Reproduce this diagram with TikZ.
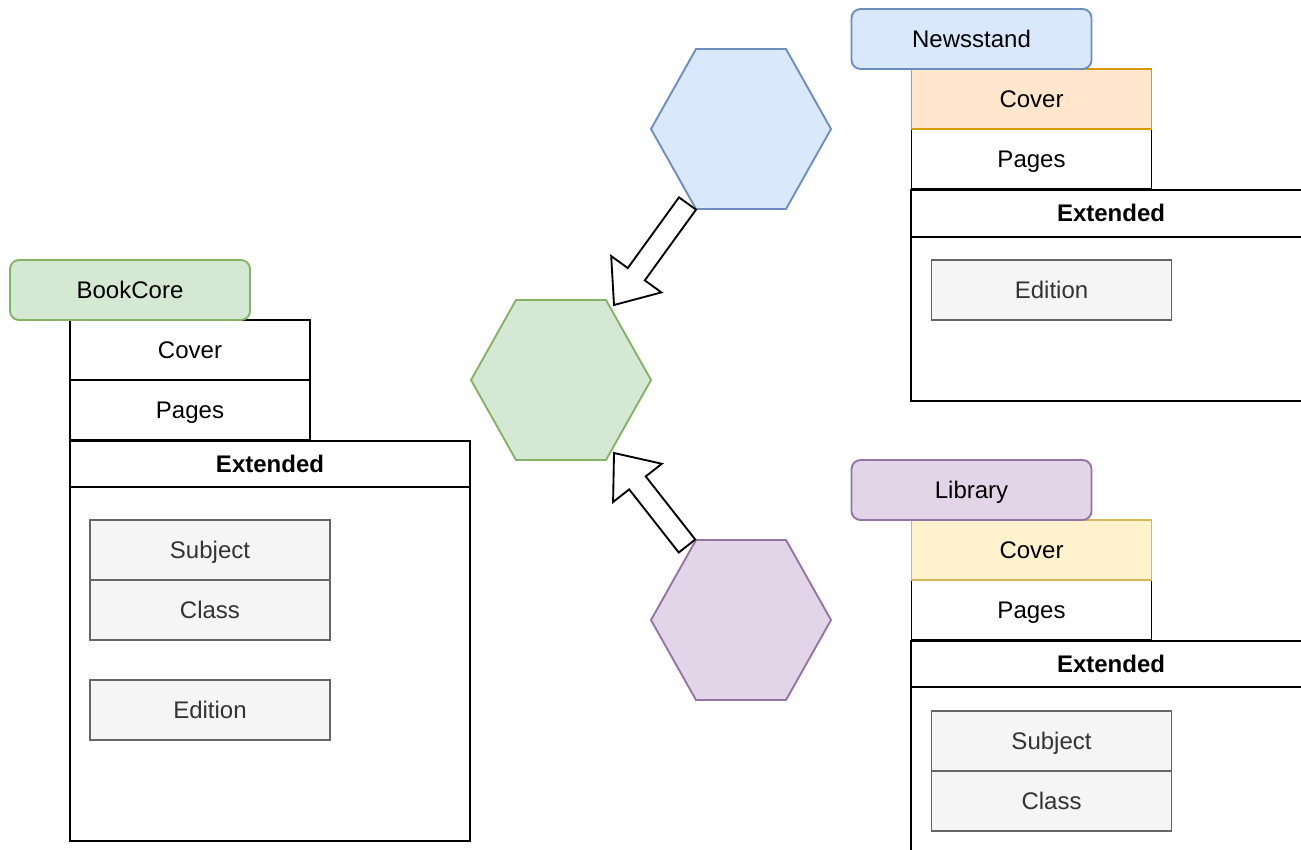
\documentclass[tikz,border=0pt]{standalone}
\usepackage{fontspec}
\setmainfont{Liberation Sans}
\usetikzlibrary{calc}
\definecolor{bluefill}{HTML}{DAE8FC}\definecolor{bluedraw}{HTML}{6C8EBF}
\definecolor{greenfill}{HTML}{D5E8D4}\definecolor{greendraw}{HTML}{82B366}
\definecolor{purplefill}{HTML}{E1D5E7}\definecolor{purpledraw}{HTML}{9673A6}
\definecolor{orangefill}{HTML}{FFE6CC}\definecolor{orangedraw}{HTML}{D79B00}
\definecolor{yellowfill}{HTML}{FFF2CC}\definecolor{yellowdraw}{HTML}{D6B656}
\definecolor{grayfill}{HTML}{F5F5F5}\definecolor{graydraw}{HTML}{666666}
\definecolor{graytext}{HTML}{333333}
\tikzset{
  lw/.style={line width=1.4pt},
  txt/.style={text height=16.5pt, text depth=3.6pt},
  titlebox/.style={lw, txt, rounded corners=6.75pt, minimum width=180pt, minimum height=45pt, inner sep=0pt},
  rowbox/.style={lw, txt, draw=black, fill=white, minimum width=180pt, minimum height=45pt, inner sep=0pt},
  hdrbox/.style={lw, txt, draw=black, fill=white, minimum width=300pt, minimum height=35pt, inner sep=0pt, font=\fontsize{18}{21}\selectfont\bfseries},
  bodybox/.style={lw, draw=black, fill=white, minimum width=300pt, inner sep=0pt},
  itembox/.style={lw, txt, draw=graydraw, fill=grayfill, text=graytext, minimum width=180pt, minimum height=45pt, inner sep=0pt},
  blockarrow/.style={lw, draw=black, fill=white, line join=miter},
}
\newcommand\blockarr[2]{%
  \draw[blockarrow]
    ($(#1)!7.875pt!90:(#2)$) --
    ($($(#2)!28.5pt!(#1)$)!7.875pt!90:(#2)$) --
    ($($(#2)!28.5pt!(#1)$)!23.25pt!90:(#2)$) --
    (#2) --
    ($($(#2)!28.5pt!(#1)$)!23.25pt!-90:(#2)$) --
    ($($(#2)!28.5pt!(#1)$)!7.875pt!-90:(#2)$) --
    ($(#1)!7.875pt!-90:(#2)$) -- cycle;}
\begin{document}
\begin{tikzpicture}[x=0.75pt,y=-0.75pt,font=\fontsize{18}{21}\selectfont]
\useasboundingbox (0,0) rectangle (1301,849);
\clip (0,0) rectangle (1301,849);
\fill[white] (0,0) rectangle (1301,849);

% hexagons
\draw[lw, draw=bluedraw, fill=bluefill] (651,129) -- (696,49) -- (786,49) -- (831,129) -- (786,209) -- (696,209) -- cycle;
\coordinate (hexblue) at (741,129);
\draw[lw, draw=greendraw, fill=greenfill] (471,380) -- (516,300) -- (606,300) -- (651,380) -- (606,460) -- (516,460) -- cycle;
\coordinate (hexgreen) at (561,380);
\draw[lw, draw=purpledraw, fill=purplefill] (651,620) -- (696,540) -- (786,540) -- (831,620) -- (786,700) -- (696,700) -- cycle;
\coordinate (hexpurple) at (741,620);

% block arrows
\coordinate (a1s) at (687.5,203.5);
\coordinate (a1t) at (614,305);
\coordinate (a2s) at (687,546);
\coordinate (a2t) at (614,453);
\blockarr{a1s}{a1t}
\blockarr{a2s}{a2t}

% Newsstand
\node[hdrbox, anchor=north] (nsext) at (1111,189) {Extended};
\node[bodybox, minimum height=123pt, anchor=north] (nsbody) at (1111,236) {};
\node[itembox] (nsedition) at (1051.5,290) {Edition};
\node[rowbox] (nspages) at (1031.5,159) {Pages};
\node[rowbox, draw=orangedraw, fill=orangefill] (nscover) at (1031.5,99) {Cover};
\node[titlebox, draw=bluedraw, fill=bluefill] (newsstand) at (971.5,39) {Newsstand};

% Library
\node[hdrbox, anchor=north] (libext) at (1111,640) {Extended};
\node[bodybox, minimum height=170pt, anchor=north] (libbody) at (1111,686) {};
\node[itembox] (libsubject) at (1051.5,741) {Subject};
\node[itembox] (libclass) at (1051.5,801) {Class};
\node[rowbox] (libpages) at (1031.5,610) {Pages};
\node[rowbox, draw=yellowdraw, fill=yellowfill] (libcover) at (1031.5,550) {Cover};
\node[titlebox, draw=purpledraw, fill=purplefill] (library) at (971.5,490) {Library};

% BookCore
\node[hdrbox, anchor=north] (bcext) at (270,440) {Extended};
\node[bodybox, minimum height=265.5pt, anchor=north] (bcbody) at (270,486) {};
\node[itembox] (bcsubject) at (210,550) {Subject};
\node[itembox] (bcclass) at (210,610) {Class};
\node[itembox] (bcedition) at (210,710) {Edition};
\node[rowbox] (bcpages) at (190,410) {Pages};
\node[rowbox] (bccover) at (190,350) {Cover};
\node[titlebox, draw=greendraw, fill=greenfill] (bookcore) at (130,290) {BookCore};
\end{tikzpicture}
\end{document}
